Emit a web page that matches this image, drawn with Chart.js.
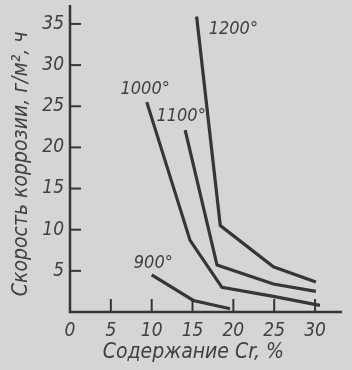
<!DOCTYPE html>
<html>
<head>
<meta charset="utf-8">
<script src="https://cdn.jsdelivr.net/npm/chart.js@4"></script>
<style>
  html, body { margin: 0; padding: 0; background: #d5d5d3; }
  #wrap { width: 352px; height: 370px; position: relative; }
</style>
</head>
<body>
<div id="wrap"><canvas id="c" width="352" height="370"></canvas></div>
<script>
// data (x = Cr content %, y = corrosion rate g/m2·h)
const t900 = [[10.0, 4.5], [15.1, 1.4], [19.6, 0.4]]
const t1000 = [[9.4, 25.5], [14.7, 8.7], [18.6, 3.0], [24.9, 1.9], [30.6, 0.8]]
const t1100 = [[14.1, 22.1], [18.0, 5.7], [24.9, 3.4], [30.1, 2.5]]
const t1200 = [[15.5, 35.9], [18.4, 10.5], [24.9, 5.5], [30.1, 3.65]]

const seriesNames = ["900°", "1000°", "1100°", "1200°"]
const seriesData = [t900, t1000, t1100, t1200]
// where each curve's label sits (data units)
const labelPos = [[10.2, 5.9], [9.2, 27.1], [13.6, 23.8], [20.0, 34.4]]

const xTicks = [0, 5, 10, 15, 20, 25, 30]
const yTicks = [5, 10, 15, 20, 25, 30, 35]
const xTitle = "Содержание Cr, %"
const yTitle = "Скорость коррозии, г/м², ч"

const ink = "#363636"
const textInk = "#404040"
const font = "'Liberation Sans Narrow', 'DejaVu Sans Condensed', 'Liberation Sans', sans-serif"

const toPoints = arr => arr.map(([x, y]) => ({ x, y }))

// axes lines, inward ticks, titles and curve labels
const decor = {
  id: "decor",
  afterDraw(chart) {
    const { ctx, chartArea } = chart
    const xs = chart.scales.x
    const ys = chart.scales.y
    const x0 = xs.getPixelForValue(0)
    const y0 = ys.getPixelForValue(0)
    ctx.save()
    ctx.strokeStyle = ink
    ctx.lineWidth = 2.5
    ctx.beginPath()
    ctx.moveTo(x0, chartArea.top)
    ctx.lineTo(x0, y0)
    ctx.lineTo(chartArea.right, y0)
    ctx.stroke()
    ctx.lineWidth = 2
    yTicks.forEach(v => {
      const p = ys.getPixelForValue(v)
      ctx.beginPath()
      ctx.moveTo(x0, p)
      ctx.lineTo(x0 + 11, p)
      ctx.stroke()
    })
    xTicks.slice(1).forEach(v => {
      const p = xs.getPixelForValue(v)
      ctx.beginPath()
      ctx.moveTo(p, y0)
      ctx.lineTo(p, y0 - 13)
      ctx.stroke()
    })
    ctx.fillStyle = textInk
    ctx.font = "italic 18px " + font
    ctx.textAlign = "center"
    ctx.textBaseline = "middle"
    seriesNames.forEach((name, i) => {
      const [lx, ly] = labelPos[i]
      ctx.fillText(name, xs.getPixelForValue(lx), ys.getPixelForValue(ly))
    })
    ctx.font = "italic 21px " + font
    ctx.fillText(xTitle, xs.getPixelForValue(15.1), y0 + 41)
    ctx.translate(22, ys.getPixelForValue(18.0))
    ctx.rotate(-Math.PI / 2)
    ctx.fillText(yTitle, 0, 0)
    ctx.restore()
  }
}

new Chart(document.getElementById("c"), {
  type: "line",
  data: {
    datasets: seriesData.map((d, i) => ({
      label: seriesNames[i],
      data: toPoints(d),
      borderColor: ink,
      borderWidth: 3.2,
      pointRadius: 0,
      tension: 0,
      fill: false
    }))
  },
  options: {
    responsive: false,
    animation: false,
    events: [],
    layout: { padding: { top: 5, right: 10, bottom: 0, left: 0 } },
    plugins: { legend: { display: false }, tooltip: { enabled: false } },
    scales: {
      x: {
        type: "linear",
        min: 0,
        max: 33.3,
        afterBuildTicks: s => { s.ticks = xTicks.map(v => ({ value: v })) },
        afterFit: s => { s.height = 58; s.paddingLeft = 0; s.paddingRight = 0 },
        grid: { display: false, drawTicks: false },
        border: { display: false },
        ticks: {
          color: textInk,
          padding: 8,
          maxRotation: 0,
          font: { family: font, style: "italic", size: 19 }
        }
      },
      y: {
        type: "linear",
        min: 0,
        max: 37.3,
        afterBuildTicks: s => { s.ticks = yTicks.map(v => ({ value: v })) },
        afterFit: s => { s.width = 70; s.paddingTop = 0; s.paddingBottom = 0 },
        grid: { display: false, drawTicks: false },
        border: { display: false },
        ticks: {
          color: textInk,
          padding: 6,
          font: { family: font, style: "italic", size: 19 }
        }
      }
    }
  },
  plugins: [decor]
})
</script>
</body>
</html>
